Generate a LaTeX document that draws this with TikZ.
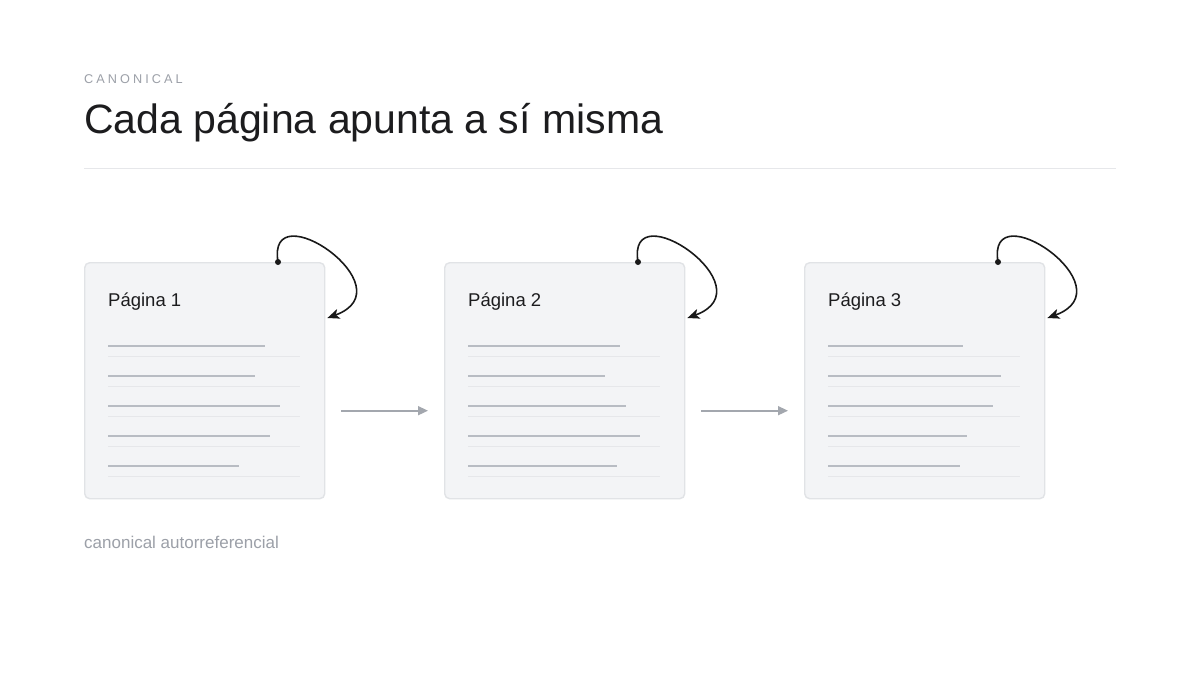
\documentclass[tikz,border=0pt]{standalone}
\usepackage{fontspec}
\setmainfont{Liberation Sans}
\usetikzlibrary{arrows.meta,calc}
\definecolor{titlec}{HTML}{1C1C1E}
\definecolor{mutedc}{HTML}{9CA0A8}
\definecolor{rulec}{HTML}{E6E7EA}
\definecolor{boxfill}{HTML}{F3F4F6}
\definecolor{boxdraw}{HTML}{E1E3E6}
\definecolor{darkline}{HTML}{B8BCC3}
\definecolor{lightline}{HTML}{E6E7EA}
\definecolor{flowc}{HTML}{A3A7AE}
\tikzset{
  pagebox/.style={draw=boxdraw, line width=1.4pt, fill=boxfill, rounded corners=5pt,
    minimum width=240pt, minimum height=236pt, inner sep=0pt, anchor=north west},
  txt/.style={inner sep=0pt, anchor=base west},
  textbar/.style={draw=darkline, line width=2pt},
  sepbar/.style={draw=lightline, line width=1pt},
  flow/.style={draw=flowc, line width=1.6pt, -{Triangle[length=10pt,width=9pt]}},
  selfloop/.style={draw=black!90, line width=1.6pt, -{Stealth[length=12pt,width=10pt,inset=3pt]}},
  dotn/.style={circle, fill=black!90, inner sep=0pt, minimum size=6pt},
}
\begin{document}
\begin{tikzpicture}[x=1pt,y=-1pt]
\useasboundingbox[fill=white] (0,0) rectangle (1200,675);
\node[txt, text=mutedc, font=\fontsize{12.7}{14}\selectfont\addfontfeature{LetterSpace=24}] (kicker) at (84,83.5) {CANONICAL};
\node[txt, text=titlec, font=\fontsize{41}{46}\selectfont] (title) at (84,133) {Cada página apunta a sí misma};
\coordinate (r1) at (84,168.5);
\coordinate (r2) at (1116,168.5);
\draw[draw=rulec, line width=1pt] (r1) -- (r2);

\foreach \i/\x/\la/\lb/\lc/\ld/\le in {1/84/157/147/172/162/131, 2/444/152/137/158/172/149, 3/804/135/173/165/139/132}{
  \node[pagebox] (b\i) at (\x,262) {};
  \node[txt, text=titlec, font=\fontsize{18.5}{22}\selectfont] (lbl\i) at ($(b\i.north west)+(24,44)$) {Página \i};
  \foreach \k/\len in {0/\la,1/\lb,2/\lc,3/\ld,4/\le}{
    \draw[textbar] ($(b\i.north west)+(24,84+30*\k)$) -- ++(\len,0);
    \draw[sepbar] ($(b\i.north west)+(24,94.5+30*\k)$) -- ++(192,0);
  }
  \node[dotn] (d\i) at ($(b\i.north west)+(194,0)$) {};
  \coordinate (t\i) at ($(b\i.north east)+(2,56)$);
  \draw[selfloop] (d\i.center) .. controls +(-12,-72) and +(82,-30) .. (t\i);
}
\draw[flow] ($(b1.east)+(16,30)$) -- ($(b2.west)+(-16,30)$);
\draw[flow] ($(b2.east)+(16,30)$) -- ($(b3.west)+(-16,30)$);
\node[txt, text=mutedc, font=\fontsize{17}{20}\selectfont] (cap) at (84,548) {canonical autorreferencial};
\end{tikzpicture}
\end{document}
